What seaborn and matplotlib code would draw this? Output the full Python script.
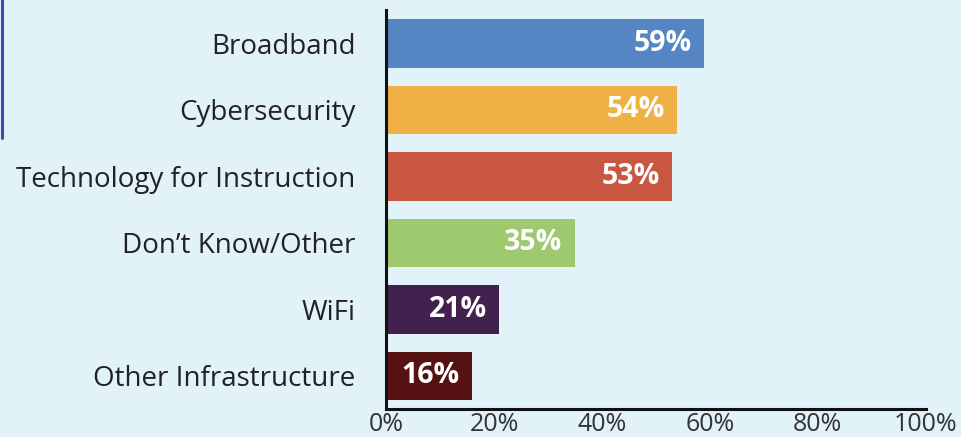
import matplotlib.pyplot as plt
import seaborn as sns
import pandas as pd
from matplotlib.lines import Line2D

# chart data
categories = ['Broadband', 'Cybersecurity', 'Technology for Instruction',
              'Don\u2019t Know/Other', 'WiFi', 'Other Infrastructure']
values = [59, 54, 53, 35, 21, 16]
colors = ['#5585c3', '#efb144', '#c95640', '#9ec96e', '#43214f', '#561213']
tick_values = [0, 20, 40, 60, 80, 100]
tick_labels = ['0%', '20%', '40%', '60%', '80%', '100%']

df = pd.DataFrame({'Category': categories, 'Percent': values})

bg = '#e1f2f9'
sns.set_style('white')
plt.rcParams['font.family'] = ['Open Sans', 'DejaVu Sans']

fig = plt.figure(figsize=(9.61, 4.37), dpi=100, facecolor=bg)
ax = fig.add_axes([0.4017, 0.064, 0.9632 - 0.4017, 0.913])
ax.set_facecolor(bg)

sns.barplot(data=df, x='Percent', y='Category', hue='Category',
            palette=colors, legend=False, width=0.73, ax=ax, saturation=1,
            linewidth=0)

# value labels inside bars
for i, v in enumerate(values):
    ax.annotate(f'{v}%', xy=(v, i), xytext=(-9, 0), textcoords='offset points',
                ha='right', va='center', color='white', fontsize=20.5,
                fontweight='bold')

ax.set_xlim(0, 100)
ax.set_ylim(5.5, -0.5)
ax.set_xticks(tick_values)
ax.set_xticklabels(tick_labels)
ax.set_xlabel('')
ax.set_ylabel('')

for s in ['top', 'right']:
    ax.spines[s].set_visible(False)
for s in ['left', 'bottom']:
    ax.spines[s].set_color('#111111')
    ax.spines[s].set_linewidth(2.2)

ax.tick_params(axis='x', direction='in', length=7, width=2.2, color='#111111',
               labelsize=18, labelcolor='#333333', pad=2)
ax.tick_params(axis='y', length=0, labelsize=20, labelcolor='#222222', pad=22)

# frame remnant on the left edge
fig.add_artist(Line2D([0.002, 0.002], [1.0, 0.685], transform=fig.transFigure,
                      color='#4448a8', linewidth=2.2))

fig.savefig('out.png', dpi=100, facecolor=bg)
